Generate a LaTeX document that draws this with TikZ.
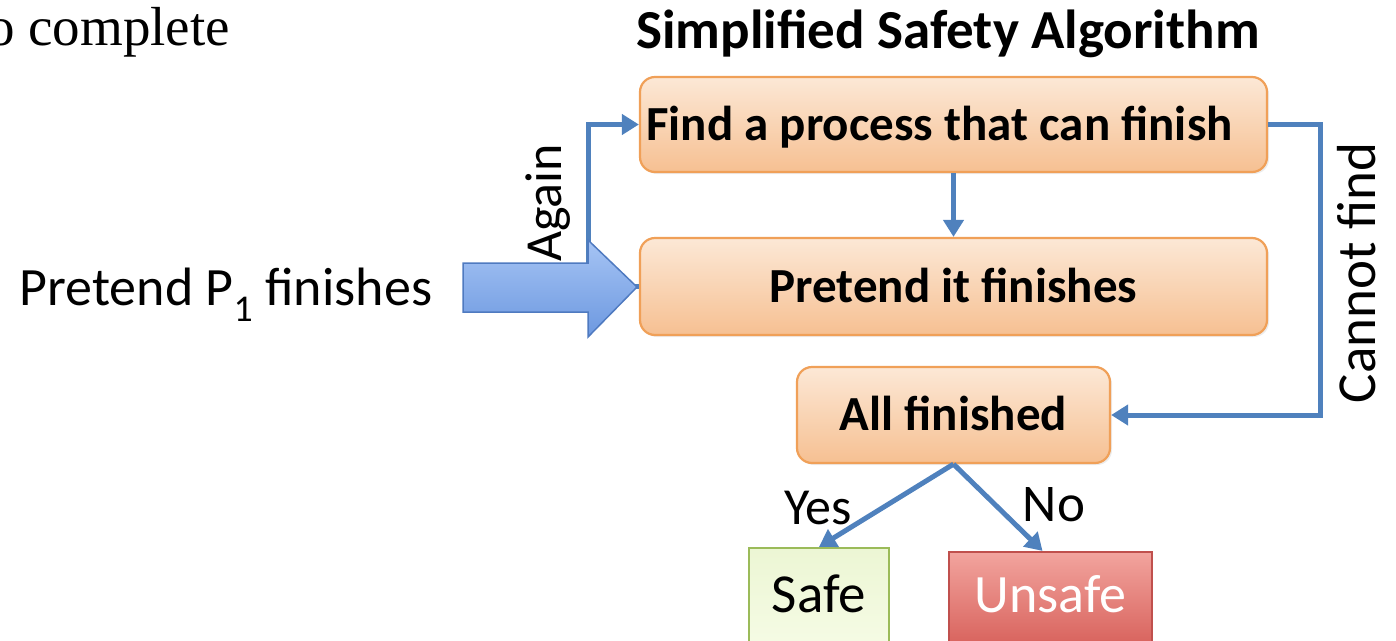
\documentclass[tikz,border=0pt]{standalone}
\usepackage{fontspec}
\setmainfont{Carlito}
\newfontfamily\serifface{Liberation Serif}
\usetikzlibrary{arrows.meta,shadows}

\definecolor{flowblue}{RGB}{79,129,189}
\definecolor{boxedge}{RGB}{240,160,88}
\definecolor{boxtop}{RGB}{252,232,214}
\definecolor{boxbot}{RGB}{246,192,146}
\definecolor{safeedge}{RGB}{155,187,89}
\definecolor{safetop}{RGB}{236,246,212}
\definecolor{safebot}{RGB}{245,251,228}
\definecolor{unsafeedge}{RGB}{192,80,77}
\definecolor{unsafetop}{RGB}{242,164,158}
\definecolor{unsafebot}{RGB}{216,98,92}
\definecolor{bigtop}{RGB}{166,196,244}
\definecolor{bigbot}{RGB}{108,152,224}
\definecolor{bigedge}{RGB}{79,122,192}

% sz=<font size in pt>: sets the font and centres the capitals on the node centre
\tikzset{
  sz/.style={font=\fontsize{#1}{#1}\selectfont, text height=0.64*#1 pt, text depth=0pt},
  bsz/.style={font=\fontsize{#1}{#1}\selectfont\bfseries, text height=0.64*#1 pt, text depth=0pt},
  stepbox/.style={draw=boxedge, line width=2.2pt, rounded corners=15pt,
    top color=boxtop, bottom color=boxbot,
    drop shadow={shadow xshift=2pt, shadow yshift=-2pt, opacity=0.15},
    bsz=49},
  outbox/.style={line width=2.2pt},
  flow/.style={draw=flowblue, line width=5pt,
    -{Triangle[length=17pt,width=20pt]}},
}

\begin{document}
\begin{tikzpicture}[x=1pt,y=-1pt]
\useasboundingbox (0,0) rectangle (1396,640);
\clip (0,0) rectangle (1396,640);

% leftover line of body text at the top
\node[anchor=base west, inner sep=0pt, font=\serifface\fontsize{55}{66}\selectfont]
  (bodytext) at (-13,45) {o complete};

% title
\node[bsz=55] (title) at (948,31) {Simplified Safety Algorithm};

% algorithm boxes
\node[stepbox, minimum width=627pt, minimum height=95pt] (find) at (953.5,124.5)
  {\hspace*{-28pt}Find a process that can finish};
\node[stepbox, minimum width=627pt, minimum height=97pt] (pretend) at (953.5,286.5)
  {Pretend it finishes};
\node[stepbox, minimum width=313pt, minimum height=96pt] (all) at (953.5,415)
  {All finished};

% outcomes
\node[outbox, sz=55, draw=safeedge, top color=safetop, bottom color=safebot,
  minimum width=140pt, minimum height=94pt] (safe) at (819,595) {Safe};
\node[outbox, sz=54, text depth=8pt, draw=unsafeedge, top color=unsafetop,
  bottom color=unsafebot, text=white, minimum width=203pt, minimum height=94pt]
  (unsafe) at (1050.5,599) {Unsafe};

% connectors
\coordinate (againx) at (588,0);
\coordinate (cannotx) at (1320,0);
\draw[flow] (find.south) -- (pretend.north);
\draw[flow] (pretend.west) -- (pretend.west -| againx) -- (find.west -| againx) -- (find.west);
\draw[flow] (find.east) -- (find.east -| cannotx) -- (all.east -| cannotx) -- (all.east);
\draw[flow] (all.south) -- (safe.north);
\draw[flow] (all.south) -- ([xshift=-8pt]unsafe.north);

% connector labels
\node[sz=52, rotate=90] (again) at (545,203) {Again};
\node[sz=55, rotate=90] (cannot) at (1358,273) {Cannot find};
\node[sz=52] (yes) at (818,508) {Yes};
\node[sz=53] (no) at (1054,505) {No};

% big input arrow
\shade[top color=bigtop, bottom color=bigbot, draw=bigedge, line width=1.5pt]
  (463,263) -- (588,263) -- (588,240) -- (637,287) -- (588,337) -- (588,312)
  -- (463,312) -- cycle;
\coordinate (bigtip) at (637,287);

\node[sz=54] (p1) at (226,288) {Pretend P\textsubscript{1} finishes};
\end{tikzpicture}
\end{document}
